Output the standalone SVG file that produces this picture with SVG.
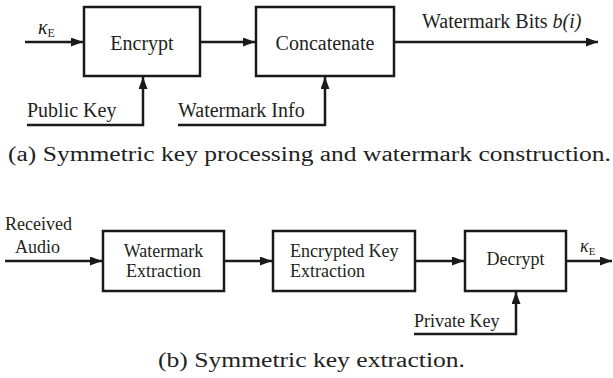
<svg xmlns="http://www.w3.org/2000/svg" width="613" height="378" viewBox="0 0 613 378" font-family="Liberation Serif, serif">
<style>
.box{fill:#fff;stroke:#1a1a1a;stroke-width:2.5}
.ln{fill:none;stroke:#1a1a1a;stroke-width:2.5}
.t{fill:#231f20}
.big{font-size:20px}
.sm{font-size:18px}
.cap{font-size:20px;fill:#222}
</style>
<defs>
<marker id="ah" markerUnits="userSpaceOnUse" markerWidth="13" markerHeight="10" refX="12" refY="4.5" orient="auto">
<path d="M0,0 L12,4.5 L0,9 z" fill="#1a1a1a"/>
</marker>
</defs>
<g id="connectors">
<path class="ln" d="M25,42 H83" marker-end="url(#ah)"/>
<path class="ln" d="M200,42 H255" marker-end="url(#ah)"/>
<path class="ln" d="M394,42 H598" marker-end="url(#ah)"/>
<path class="ln" d="M27,125 H143 V77" marker-end="url(#ah)"/>
<path class="ln" d="M178,125 H325 V77" marker-end="url(#ah)"/>
<path class="ln" d="M5,261 H102" marker-end="url(#ah)"/>
<path class="ln" d="M224,261 H272" marker-end="url(#ah)"/>
<path class="ln" d="M415,261 H464" marker-end="url(#ah)"/>
<path class="ln" d="M566,261 H612" marker-end="url(#ah)"/>
<path class="ln" d="M414,334 H516 V292" marker-end="url(#ah)"/>
</g>
<g id="encrypt">
<rect class="box" x="84" y="7" width="116" height="69"/>
<text class="t big" font-family="Liberation Serif, serif" x="142" y="50" text-anchor="middle">Encrypt</text>
</g>
<g id="concatenate">
<rect class="box" x="256" y="7" width="138" height="69"/>
<text class="t big" font-family="Liberation Serif, serif" x="325" y="50" text-anchor="middle">Concatenate</text>
</g>
<g id="labels-a" font-family="Liberation Serif, serif">
<text class="t big" x="38" y="34" font-style="italic">κ<tspan font-size="12" font-style="normal" dy="3">E</tspan></text>
<text class="t big" x="422" y="28">Watermark Bits <tspan font-style="italic">b(i)</tspan></text>
<text class="t big" x="27" y="117">Public Key</text>
<text class="t big" x="178" y="117">Watermark Info</text>
</g>
<text class="cap" font-family="Liberation Serif, serif" x="8" y="161" textLength="603" lengthAdjust="spacingAndGlyphs">(a) Symmetric key processing and watermark construction.</text>
<g id="watermark-extraction" font-family="Liberation Serif, serif">
<rect class="box" x="103" y="231" width="121" height="60"/>
<text class="t sm" x="163.5" y="257" text-anchor="middle">Watermark</text>
<text class="t sm" x="163.5" y="277" text-anchor="middle">Extraction</text>
</g>
<g id="encrypted-key-extraction" font-family="Liberation Serif, serif">
<rect class="box" x="273" y="231" width="142" height="60"/>
<text class="t sm" x="290" y="257">Encrypted Key</text>
<text class="t sm" x="290" y="277">Extraction</text>
</g>
<g id="decrypt" font-family="Liberation Serif, serif">
<rect class="box" x="465" y="231" width="101" height="60"/>
<text class="t sm" x="515.5" y="265" text-anchor="middle">Decrypt</text>
</g>
<g id="labels-b" font-family="Liberation Serif, serif">
<text class="t sm" x="5" y="230">Received</text>
<text class="t sm" x="15" y="253">Audio</text>
<text class="t sm" x="580" y="252" font-style="italic">κ<tspan font-size="11" font-style="normal" dy="3">E</tspan></text>
<text class="t sm" x="414" y="327">Private Key</text>
</g>
<text class="cap" font-family="Liberation Serif, serif" x="158" y="367" textLength="307" lengthAdjust="spacingAndGlyphs">(b) Symmetric key extraction.</text>
</svg>
